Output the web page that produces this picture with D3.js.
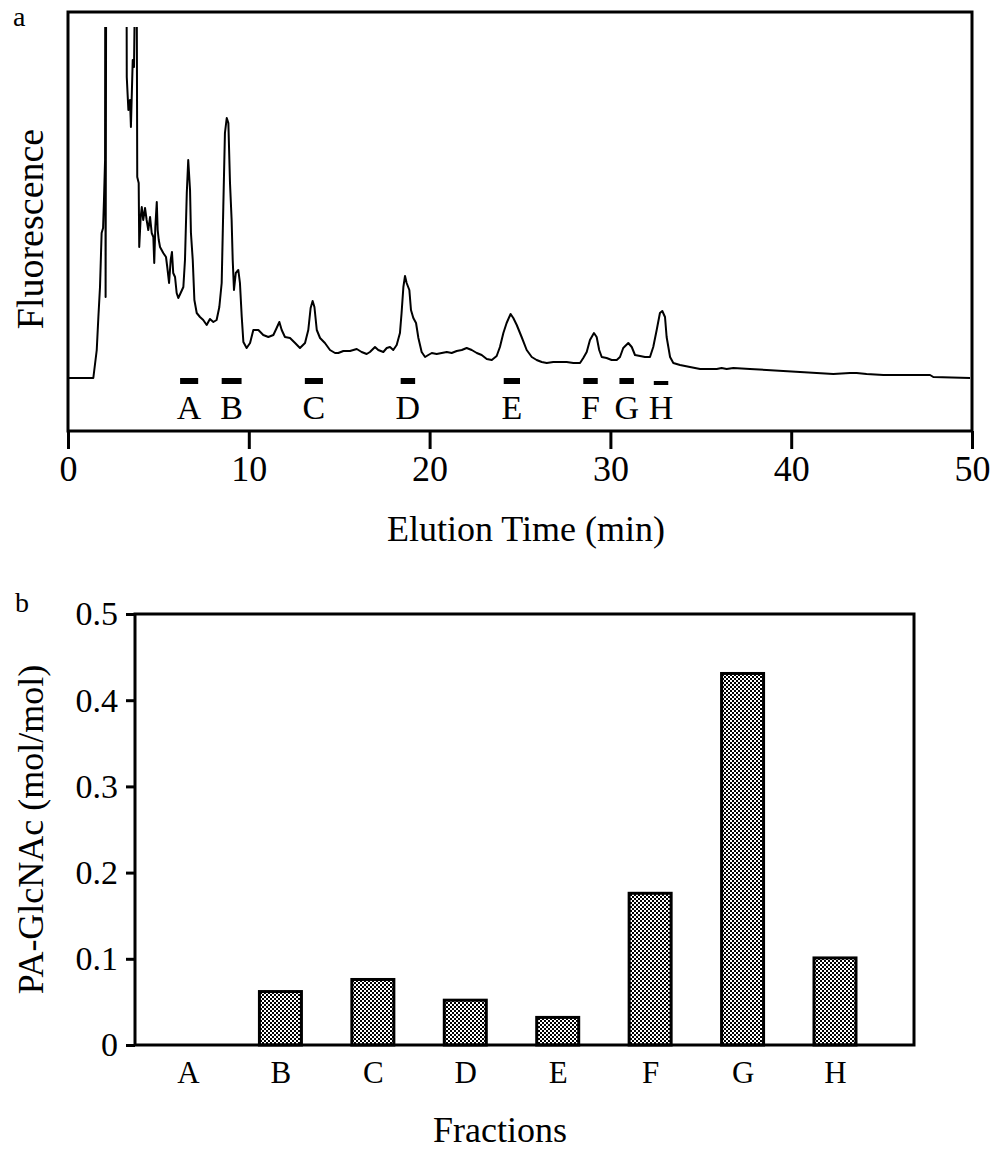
<!DOCTYPE html>
<html>
<head>
<meta charset="utf-8">
<script src="https://cdn.jsdelivr.net/npm/d3@7"></script>
<style>
  body { margin: 0; background: #fff; }
  text { font-family: 'Liberation Serif', 'Times New Roman', serif; fill: #000; }
</style>
</head>
<body>
<div id="chart"></div>
<script>
// Panel a: HPLC trace (elution time in min, fluorescence in arbitrary units)
const elutionTime = [0, 1.40, 1.59, 1.68, 1.77, 1.86, 1.94, 1.99, 2.05, 2.06, 2.08, 2.11, 3.24, 3.25, 3.34, 3.43, 3.48, 3.58, 3.65, 3.71,
  3.80, 3.83, 3.91, 3.94, 4.02, 4.08, 4.16, 4.26, 4.35, 4.44, 4.54, 4.63, 4.72, 4.77, 4.83, 4.91, 4.96, 5.02, 5.09, 5.27,
  5.42, 5.49, 5.59, 5.68, 5.75, 5.82, 5.92, 6.01, 6.10, 6.23, 6.38, 6.47, 6.57, 6.65, 6.75, 6.80, 6.90, 6.99, 7.12, 7.30,
  7.48, 7.67, 7.85, 8.04, 8.22, 8.37, 8.50, 8.59, 8.68, 8.78, 8.87, 8.96, 9.05, 9.11, 9.18, 9.28, 9.42, 9.51, 9.61, 9.70,
  9.88, 10.07, 10.25, 10.53, 10.80, 11.08, 11.36, 11.54, 11.69, 11.82, 12.00, 12.28, 12.56, 12.83, 13.11, 13.29, 13.42, 13.53, 13.63, 13.76,
  13.94, 14.21, 14.49, 14.77, 14.95, 15.23, 15.60, 15.97, 16.24, 16.52, 16.70, 16.98, 17.16, 17.44, 17.63, 17.81, 17.99, 18.18, 18.36, 18.45,
  18.55, 18.64, 18.73, 18.88, 18.97, 19.10, 19.25, 19.38, 19.56, 19.75, 19.93, 20.12, 20.39, 20.67, 20.95, 21.22, 21.50, 21.78, 22.05, 22.33,
  22.61, 22.88, 23.16, 23.44, 23.71, 23.89, 24.08, 24.26, 24.48, 24.63, 24.82, 25.09, 25.37, 25.65, 25.92, 26.20, 26.48, 26.84, 27.21, 27.58,
  27.95, 28.32, 28.50, 28.69, 28.87, 29.09, 29.24, 29.38, 29.52, 29.79, 30.07, 30.35, 30.53, 30.71, 30.99, 31.18, 31.36, 31.64, 31.91, 32.19,
  32.37, 32.56, 32.74, 32.87, 33.02, 33.11, 33.30, 33.48, 33.85, 34.40, 34.96, 35.88, 36.15, 36.43, 36.80, 37.72, 38.64, 39.56, 40.49, 41.41,
  42.33, 43.25, 43.62, 44.17, 45.10, 46.02, 47.68, 47.86, 49.89]
const fluorescence = [2, 2, 30, 63, 93, 147, 152, 180, 220, 400, 83, 400, 400, 303, 270, 280, 253, 320, 313, 400,
  400, 203, 197, 133, 163, 173, 160, 172, 160, 150, 163, 147, 143, 117, 153, 178, 150, 140, 133, 127,
  123, 113, 97, 120, 128, 107, 103, 87, 82, 87, 93, 120, 187, 220, 190, 147, 120, 80, 67, 63,
  60, 55, 61, 58, 60, 73, 97, 173, 247, 262, 257, 197, 160, 120, 90, 107, 110, 97, 63, 38,
  32, 37, 50, 50, 45, 43, 45, 52, 58, 50, 43, 42, 37, 32, 37, 50, 72, 79, 73, 50,
  42, 37, 30, 27, 27, 29, 29, 31, 28, 26, 28, 33, 30, 28, 32, 33, 30, 35, 47, 67,
  93, 104, 97, 90, 70, 62, 57, 42, 28, 23, 25, 27, 26, 27, 28, 27, 29, 30, 32, 30,
  27, 25, 21, 20, 24, 33, 47, 57, 66, 62, 55, 43, 30, 23, 20, 18, 17, 18, 18, 18,
  17, 17, 22, 28, 40, 47, 43, 30, 23, 22, 20, 20, 23, 32, 37, 33, 25, 24, 23, 23,
  33, 50, 67, 69, 63, 43, 23, 17, 15, 13, 11, 11, 12, 11, 12, 11, 10, 9, 8, 7,
  6, 7, 7, 6, 5, 5, 5, 3, 2]
// detector saturates above this level
const saturation = 353

const fractions = ['A', 'B', 'C', 'D', 'E', 'F', 'G', 'H']
const fractionStart = [6.2, 8.5, 13.1, 18.4, 24.1, 28.5, 30.5, 32.4]
const fractionEnd = [7.2, 9.6, 14.1, 19.2, 25.0, 29.3, 31.3, 33.2]
const timeTicks = [0, 10, 20, 30, 40, 50]

// Panel b: PA-GlcNAc per fraction
const glcnac = [0, 0.062, 0.076, 0.052, 0.032, 0.176, 0.431, 0.101]
const glcnacTicks = [0, 0.1, 0.2, 0.3, 0.4, 0.5]

const svg = d3.select('#chart').append('svg')
  .attr('width', 1008)
  .attr('height', 1151)
  .style('background-color', '#fff')

const defs = svg.append('defs')

// fine checker fill for the bars
const pattern = defs.append('pattern')
  .attr('id', 'checker')
  .attr('width', 4)
  .attr('height', 4)
  .attr('patternUnits', 'userSpaceOnUse')
pattern.append('rect').attr('width', 4).attr('height', 4).attr('fill', '#fff')
pattern.append('rect').attr('width', 2).attr('height', 2).attr('fill', '#000')
pattern.append('rect').attr('x', 2).attr('y', 2).attr('width', 2).attr('height', 2).attr('fill', '#000')

// ---------- panel a ----------
const a = { left: 68, right: 972, top: 12, bottom: 431 }

const x = d3.scaleLinear().domain([0, 50]).range([a.left, a.right])
const y = d3.scaleLinear().domain([-51, 368]).range([a.bottom, a.top])

defs.append('clipPath').attr('id', 'clipA')
  .append('rect')
  .attr('x', a.left)
  .attr('y', y(saturation))
  .attr('width', a.right - a.left)
  .attr('height', a.bottom - y(saturation))

const trace = elutionTime.map((t, i) => ({ t: t, v: fluorescence[i] }))

svg.append('path')
  .datum(trace)
  .attr('clip-path', 'url(#clipA)')
  .attr('fill', 'none')
  .attr('stroke', '#000')
  .attr('stroke-width', 2)
  .attr('stroke-linejoin', 'round')
  .attr('d', d3.line().x(d => x(d.t)).y(d => y(d.v)))

// collected fractions
const frac = fractions.map((f, i) => ({ name: f, start: fractionStart[i], end: fractionEnd[i] }))

svg.selectAll('.fracbar')
  .data(frac)
  .enter()
  .append('rect')
  .attr('class', 'fracbar')
  .attr('x', d => x(d.start))
  .attr('y', 378)
  .attr('width', d => x(d.end) - x(d.start))
  .attr('height', d => d.name == 'H' ? 4 : 6)
  .attr('transform', d => d.name == 'H' ? 'translate(0,3)' : null)
  .attr('fill', '#000')

svg.selectAll('.fraclabel')
  .data(frac)
  .enter()
  .append('text')
  .attr('class', 'fraclabel')
  .attr('x', d => x((d.start + d.end) / 2))
  .attr('y', 419)
  .attr('text-anchor', 'middle')
  .style('font-size', '34px')
  .text(d => d.name)

const xAxisA = svg.append('g')
  .attr('transform', `translate(0, ${a.bottom})`)
  .call(d3.axisBottom(x).tickValues(timeTicks).tickSize(18).tickPadding(6).tickFormat(d3.format('d')))
xAxisA.select('.domain').remove()
xAxisA.selectAll('line').attr('stroke', '#000').attr('stroke-width', 3)
xAxisA.selectAll('text').style('font-size', '36px').style('font-family', "'Liberation Serif', serif")

svg.append('rect')
  .attr('x', a.left)
  .attr('y', a.top)
  .attr('width', a.right - a.left)
  .attr('height', a.bottom - a.top)
  .attr('fill', 'none')
  .attr('stroke', '#000')
  .attr('stroke-width', 3)

svg.append('text')
  .attr('x', 526)
  .attr('y', 541)
  .attr('text-anchor', 'middle')
  .style('font-size', '36px')
  .text('Elution Time (min)')

svg.append('text')
  .attr('transform', 'translate(43, 229) rotate(-90)')
  .attr('text-anchor', 'middle')
  .style('font-size', '38px')
  .text('Fluorescence')

svg.append('text').attr('x', 13).attr('y', 26).style('font-size', '28px').text('a')

// ---------- panel b ----------
const b = { left: 135, right: 914, top: 614, bottom: 1045 }

const xb = d3.scalePoint().domain(fractions).range([b.left + 53, b.right - 79])
const yb = d3.scaleLinear().domain([0, 0.5]).range([b.bottom, b.top])
const barWidth = 42

svg.selectAll('.bar')
  .data(fractions.map((f, i) => ({ name: f, value: glcnac[i] })).filter(d => d.value > 0))
  .enter()
  .append('rect')
  .attr('class', 'bar')
  .attr('x', d => xb(d.name) - barWidth / 2)
  .attr('y', d => yb(d.value))
  .attr('width', barWidth)
  .attr('height', d => yb(0) - yb(d.value))
  .attr('fill', 'url(#checker)')
  .attr('stroke', '#000')
  .attr('stroke-width', 3)

const yAxisB = svg.append('g')
  .attr('transform', `translate(${b.left}, 0)`)
  .call(d3.axisLeft(yb).tickValues(glcnacTicks).tickSize(9).tickPadding(8).tickFormat(d => d == 0 ? '0' : d3.format('.1f')(d)))
yAxisB.select('.domain').remove()
yAxisB.selectAll('line').attr('stroke', '#000').attr('stroke-width', 3)
yAxisB.selectAll('text').style('font-size', '34px').style('font-family', "'Liberation Serif', serif")

const xAxisB = svg.append('g')
  .attr('transform', `translate(0, ${b.bottom})`)
  .call(d3.axisBottom(xb).tickSize(0).tickPadding(16))
xAxisB.select('.domain').remove()
xAxisB.selectAll('text').style('font-size', '31px').style('font-family', "'Liberation Serif', serif")

svg.append('rect')
  .attr('x', b.left)
  .attr('y', b.top)
  .attr('width', b.right - b.left)
  .attr('height', b.bottom - b.top)
  .attr('fill', 'none')
  .attr('stroke', '#000')
  .attr('stroke-width', 3)

svg.append('text')
  .attr('x', 500)
  .attr('y', 1142)
  .attr('text-anchor', 'middle')
  .style('font-size', '36px')
  .text('Fractions')

svg.append('text')
  .attr('transform', `translate(43, ${(b.top + b.bottom) / 2}) rotate(-90)`)
  .attr('text-anchor', 'middle')
  .style('font-size', '36px')
  .text('PA-GlcNAc (mol/mol)')

svg.append('text').attr('x', 15).attr('y', 612).style('font-size', '28px').text('b')
</script>
</body>
</html>
